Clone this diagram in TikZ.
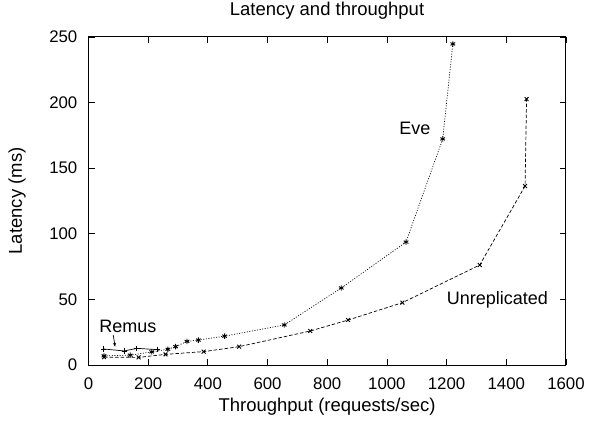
\documentclass[tikz,border=0pt]{standalone}
\usepackage{fontspec}
\setmainfont{Liberation Sans}
\usetikzlibrary{plotmarks,arrows.meta}

\tikzset{
  lbl/.style={font=\fontsize{18.5}{21}\selectfont, inner sep=0pt},
  keylbl/.style={font=\fontsize{18}{21}\selectfont, inner sep=0pt},
  ticklbl/.style={font=\fontsize{16.8}{19}\selectfont, inner sep=0pt},
  curve/.style={line width=0.7pt, black, mark size=2.7pt, mark options={solid, line width=0.9pt}},
  remusline/.style={curve, solid, mark=+},
  unrepline/.style={curve, dash pattern=on 3.5pt off 2pt, mark=x},
  eveline/.style={curve, dash pattern=on 1pt off 1.6pt, mark=asterisk},
}

\begin{document}
\begin{tikzpicture}[x=1pt,y=1pt]
\useasboundingbox (0,0) rectangle (589,421);

% title and axis labels, centred on the plot area
\node[lbl] (title) at (327,410) {Latency and throughput};
\node[lbl] (xlabel) at (327,14) {Throughput (requests/sec)};
\node[lbl, rotate=90] (ylabel) at (17,220) {Latency (ms)};

\begin{scope}[shift={(88.5,56)}, x=0.2984pt, y=1.312pt]
  % frame
  \draw[line width=1pt] (0,0) rectangle (1600,250);
  % x ticks (mirrored on top)
  \foreach \v in {0,200,...,1600}{
    \draw[line width=0.8pt] (\v,0) -- ++(0,6pt);
    \draw[line width=0.8pt] (\v,250) -- ++(0,-6pt);
    \node[ticklbl, anchor=base] at (\v,0) [yshift=-24pt] {\v};
  }
  % y ticks (mirrored on the right)
  \foreach \v in {0,50,...,250}{
    \draw[line width=0.8pt] (0,\v) -- ++(6pt,0);
    \draw[line width=0.8pt] (1600,\v) -- ++(-6pt,0);
    \node[ticklbl, anchor=east] at (0,\v) [xshift=-11pt] {\v};
  }

  % Eve (dotted)
  \draw[eveline] plot coordinates {
    (52,7) (140,7.5) (212,10) (266,12) (292,14) (330,18) (368,19)
    (456,22) (656,30.5) (847,58.7) (1064,93.7) (1187,172.3) (1221,244.7)};

  % Unreplicated (dashed)
  \draw[unrepline] plot coordinates {
    (52,6) (168,5.8) (258,8.1) (386,10.2) (505,14) (743,25.9) (870,34.3)
    (1052,47.5) (1311,76.2) (1463,136.4) (1468,202.7)};

  % Remus (solid)
  \draw[remusline] plot coordinates {
    (51,12.2) (120,10.7) (162,12.7) (232,11.7)};

  % curve labels
  \node[keylbl] (remus) at (132,29.7) {Remus};
  \node[keylbl] (eve) at (1094,180) {Eve};
  \node[keylbl] (unrep) at (1370,50) {Unreplicated};

  \coordinate (rtail) at (83,22.9);
  \coordinate (rhead) at (89,13.9);
  \draw[line width=0.7pt, -{Stealth[length=4pt,width=3pt]}] (rtail) -- (rhead);
\end{scope}
\end{tikzpicture}
\end{document}
